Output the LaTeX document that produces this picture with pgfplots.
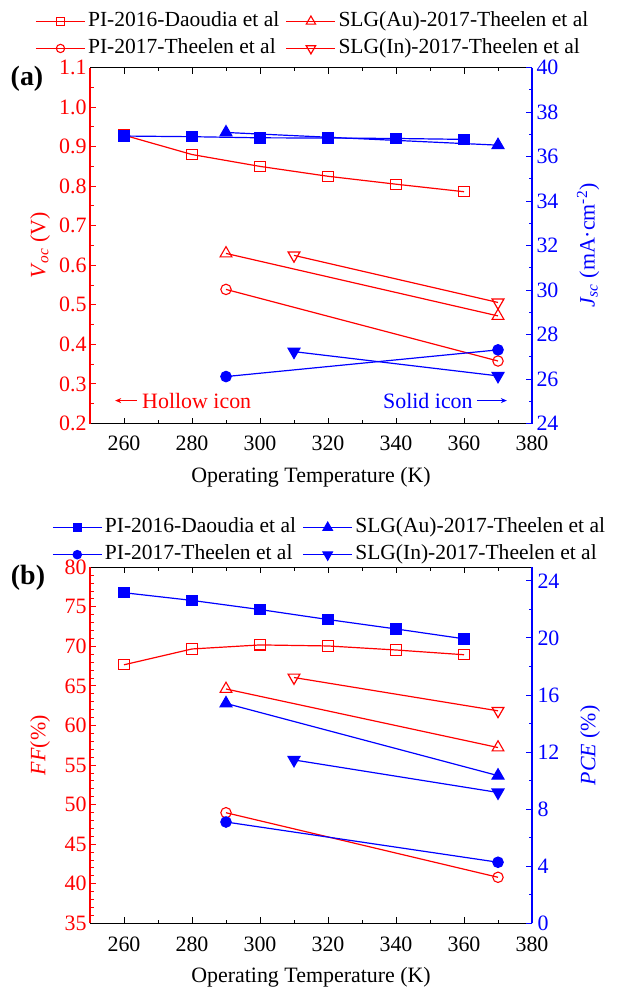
\documentclass[border=0pt]{standalone}
\usepackage{fontspec}
\setmainfont{Liberation Serif}
\usepackage{pgfplots}
\pgfplotsset{compat=1.18}
\usetikzlibrary{arrows.meta}
\definecolor{rd}{RGB}{255,0,0}
\definecolor{bl}{RGB}{0,0,255}
\pgfplotsset{
  every non boxed y axis/.style={},
  every non boxed x axis/.style={},
  base/.style={
    scale only axis, width=442bp, height=356bp,
    xmin=250, xmax=380, xtick={260,280,...,380}, minor x tick num=1,
    tick align=inside, major tick length=6bp, minor tick length=3.5bp,
    every tick/.style={line width=1bp},
    axis line style={line width=1.3bp},
    tick label style={font=\fontsize{22}{26}\selectfont},
    xticklabel style={yshift=-8.5bp},
    label style={font=\fontsize{22}{26}\selectfont},
    xlabel style={at={(axis description cs:0.5,0)}, anchor=center, yshift=-54bp},
    /pgf/number format/assume math mode=true,
    clip=false,
  },
  leftax/.style={
    axis y line*=left,
    y axis line style={rd,-},
    ytick style={rd},
    yticklabel style={rd},
    ylabel style={rd, at={(axis description cs:0,0.5)}, anchor=center, yshift=50bp},
  },
  rightax/.style={
    axis y line*=right, hide x axis,
    y axis line style={bl,-},
    ytick style={bl},
    yticklabel style={bl, xshift=1bp},
    ylabel style={bl, at={(axis description cs:1,0.5)}, anchor=center, yshift=-56bp},
  },
  hol/.style={rd, line width=1.2bp, mark options={solid, fill=white, line width=1.1bp}},
  sol/.style={bl, line width=1.2bp, mark options={solid, fill=bl}},
  legsty/.style={
    legend columns=2, legend cell align=left,
    legend image code/.code={\draw[mark repeat=2,mark phase=2,##1, every mark/.append style={scale=0.8}] plot coordinates {(0bp,0bp)(24.5bp,0bp)(49bp,0bp)};},
    legend style={draw=none, fill=none, inner sep=0pt,
      font=\fontsize{21.6}{26}\selectfont,
      nodes={inner xsep=2.5bp, inner ysep=0bp, text height=15bp, text depth=5bp},
      row sep=7bp,
      /tikz/every even column/.append style={column sep=4bp}},
  },
}
\begin{document}
\begin{tikzpicture}[x=1bp,y=1bp]
\path[use as bounding box] (0,0) rectangle (617,-988);
\node[font=\bfseries\fontsize{28}{32}\selectfont] at (27,-79) {(a)};
\node[font=\bfseries\fontsize{28}{32}\selectfont] at (28,-578) {(b)};
% ---------- panel (a) left ----------
\begin{axis}[base, leftax, at={(90bp,-423.5bp)}, anchor=south west,
  ymin=0.2, ymax=1.1, ytick={0.2,0.3,0.4,0.5,0.6,0.7,0.8,0.9,1.0,1.1}, minor y tick num=1,
  yticklabel style={/pgf/number format/.cd, fixed, fixed zerofill, precision=1},
  xlabel={Operating Temperature (K)},
  ylabel={\textit{V}\textsubscript{\textit{oc}} (V)},
  legsty,
  legend style={at={(-0.124,1.158)}, anchor=north west},
]
\addplot[hol, mark=square, mark size=5.1bp] coordinates {(260,0.929)(280,0.880)(300,0.850)(320,0.825)(340,0.805)(360,0.786)};
\addlegendentry{PI-2016-Daoudia et al}
\addplot[hol, mark=triangle, mark size=6.8bp] coordinates {(290,0.630)(370,0.472)};
\addlegendentry{SLG(Au)-2017-Theelen et al}
\addplot[hol, mark=o, mark size=5.2bp] coordinates {(290,0.539)(370,0.358)};
\addlegendentry{PI-2017-Theelen et al}
\addplot[hol, mark=triangle, mark size=6.8bp, mark options={rotate=180}] coordinates {(310,0.625)(370,0.506)};
\addlegendentry{SLG(In)-2017-Theelen et al}
\draw[rd, line width=1.2bp, -{Stealth[length=6bp,width=5bp]}] (axis cs:263.8,0.258) -- (axis cs:257.4,0.258);
\node[rd, anchor=west, inner sep=0pt, font=\fontsize{22}{26}\selectfont] at (axis cs:265.3,0.258) {Hollow icon};
\node[bl, anchor=east, inner sep=0pt, font=\fontsize{22}{26}\selectfont] at (axis cs:362.6,0.258) {Solid icon};
\draw[bl, line width=1.2bp, -{Stealth[length=6bp,width=5bp]}] (axis cs:363.8,0.258) -- (axis cs:372.6,0.258);
\end{axis}
% ---------- panel (a) right ----------
\begin{axis}[base, rightax, at={(90bp,-423.5bp)}, anchor=south west,
  ymin=24, ymax=40, ytick={24,26,...,40}, minor y tick num=1,
  ylabel={\textit{J}\textsubscript{\textit{sc}} (mA·cm\textsuperscript{-2})},
]
\addplot[sol, mark=square*, mark size=5.1bp] coordinates {(260,36.92)(280,36.89)(300,36.84)(320,36.83)(340,36.81)(360,36.77)};
\addplot[sol, mark=triangle*, mark size=6.8bp] coordinates {(290,37.08)(370,36.51)};
\addplot[sol, mark=*, mark size=5.2bp] coordinates {(290,26.11)(370,27.31)};
\addplot[sol, mark=triangle*, mark size=6.8bp, mark options={rotate=180}] coordinates {(310,27.23)(370,26.14)};
\end{axis}
% ---------- panel (b) left ----------
\begin{axis}[base, leftax, at={(90bp,-923.3bp)}, anchor=south west,
  ymin=35, ymax=80, ytick={35,40,...,80}, minor y tick num=4,
  xticklabel style={yshift=-1.5bp},
  xlabel={Operating Temperature (K)},
  ylabel={\textit{FF}(\%)},
]
\addplot[hol, mark=square, mark size=5.1bp] coordinates {(260,67.68)(280,69.68)(300,70.19)(320,70.06)(340,69.55)(360,68.95)};
\addplot[hol, mark=triangle, mark size=6.8bp] coordinates {(290,64.62)(370,57.22)};
\addplot[hol, mark=o, mark size=5.2bp] coordinates {(290,48.98)(370,40.82)};
\addplot[hol, mark=triangle, mark size=6.8bp, mark options={rotate=180}] coordinates {(310,66.07)(370,61.86)};
\end{axis}
% ---------- panel (b) right ----------
\begin{axis}[base, rightax, at={(90bp,-923.3bp)}, anchor=south west,
  ymin=0, ymax=24.95, ytick={0,4,...,24}, minor y tick num=1,
  yticklabel style={xshift=1bp},
  ylabel={\textit{PCE} (\%)},
  ylabel style={yshift=-2bp},
  legsty,
  legend style={at={(-0.086,1.140)}, anchor=north west},
]
\addplot[sol, mark=square*, mark size=5.1bp] coordinates {(260,23.17)(280,22.63)(300,21.99)(320,21.29)(340,20.63)(360,19.94)};
\addlegendentry{PI-2016-Daoudia et al}
\addplot[sol, mark=triangle*, mark size=6.8bp] coordinates {(290,15.41)(370,10.35)};
\addlegendentry{SLG(Au)-2017-Theelen et al}
\addplot[sol, mark=*, mark size=5.2bp] coordinates {(290,7.10)(370,4.28)};
\addlegendentry{PI-2017-Theelen et al}
\addplot[sol, mark=triangle*, mark size=6.8bp, mark options={rotate=180}] coordinates {(310,11.45)(370,9.17)};
\addlegendentry{SLG(In)-2017-Theelen et al}
\end{axis}
\end{tikzpicture}
\end{document}
